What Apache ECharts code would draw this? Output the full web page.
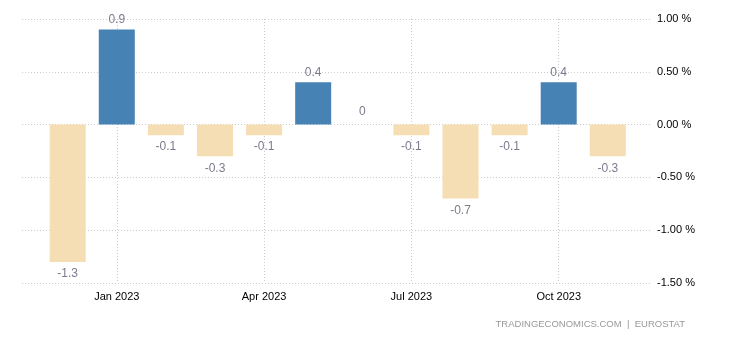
<!DOCTYPE html>
<html>
<head>
<meta charset="utf-8">
<script src="https://cdn.jsdelivr.net/npm/echarts@6/dist/echarts.min.js"></script>
<style>
html,body{margin:0;padding:0;background:#fff;}
#chart{width:730px;height:340px;}
</style>
</head>
<body>
<div id="chart"></div>
<script>
// Months Dec 2022 .. Nov 2023 (index 0 = Dec 2022)
const categories = ['Dec 2022','Jan 2023','Feb 2023','Mar 2023','Apr 2023','May 2023','Jun 2023','Jul 2023','Aug 2023','Sep 2023','Oct 2023','Nov 2023'];
const values = [-1.3, 0.9, -0.1, -0.3, -0.1, 0.4, 0, -0.1, -0.7, -0.1, 0.4, -0.3];
const tickPositions = [1, 4, 7, 10];
const tickLabels = ['Jan 2023', 'Apr 2023', 'Jul 2023', 'Oct 2023'];

const chart = echarts.init(document.getElementById('chart'), null, {renderer: 'canvas'});
const labelColor = '#7b7b8e';
const data = values.map((v, i) => ({
  value: [i, v],
  itemStyle: {color: v > 0 ? '#4682b4' : '#f5deb3'},
  label: {position: v < 0 ? 'bottom' : 'top', distance: v < 0 ? 6 : (v === 0 ? 7 : 4)}
}));

chart.setOption({
  animation: false,
  grid: {left: 22, right: 78, top: 19, bottom: 57},
  xAxis: {
    type: 'value',
    min: -0.93,
    max: 11.9,
    axisLine: {show: false},
    axisTick: {show: false, customValues: tickPositions},
    axisLabel: {
      customValues: tickPositions,
      color: '#000',
      fontSize: 11,
      fontFamily: 'Liberation Sans, Arial, sans-serif',
      margin: 8,
      formatter: (v) => tickLabels[tickPositions.indexOf(Math.round(v))] || ''
    },
    splitLine: {show: true, lineStyle: {color: '#cccccc', type: [1, 2], width: 1}}
  },
  yAxis: {
    type: 'value',
    position: 'right',
    min: -1.5,
    max: 1.0,
    interval: 0.5,
    axisLine: {show: false},
    axisTick: {show: false},
    axisLabel: {
      color: '#000',
      fontSize: 11,
      fontFamily: 'Liberation Sans, Arial, sans-serif',
      margin: 5,
      formatter: (v) => v.toFixed(2) + ' %'
    },
    splitLine: {show: true, lineStyle: {color: '#cccccc', type: [1, 2], width: 1}}
  },
  series: [{
    type: 'bar',
    barWidth: 36,
    data: data,
    label: {
      show: true,
      color: labelColor,
      fontSize: 12,
      fontFamily: 'Liberation Sans, Arial, sans-serif',
      formatter: (p) => String(p.value[1])
    }
  }],
  graphic: [{
    type: 'text',
    right: 45,
    top: 319,
    style: {
      text: 'TRADINGECONOMICS.COM  |  EUROSTAT',
      fill: '#999',
      fontSize: 9.5,
      fontFamily: 'Liberation Sans, Arial, sans-serif'
    }
  }]
});
</script>
</body>
</html>
